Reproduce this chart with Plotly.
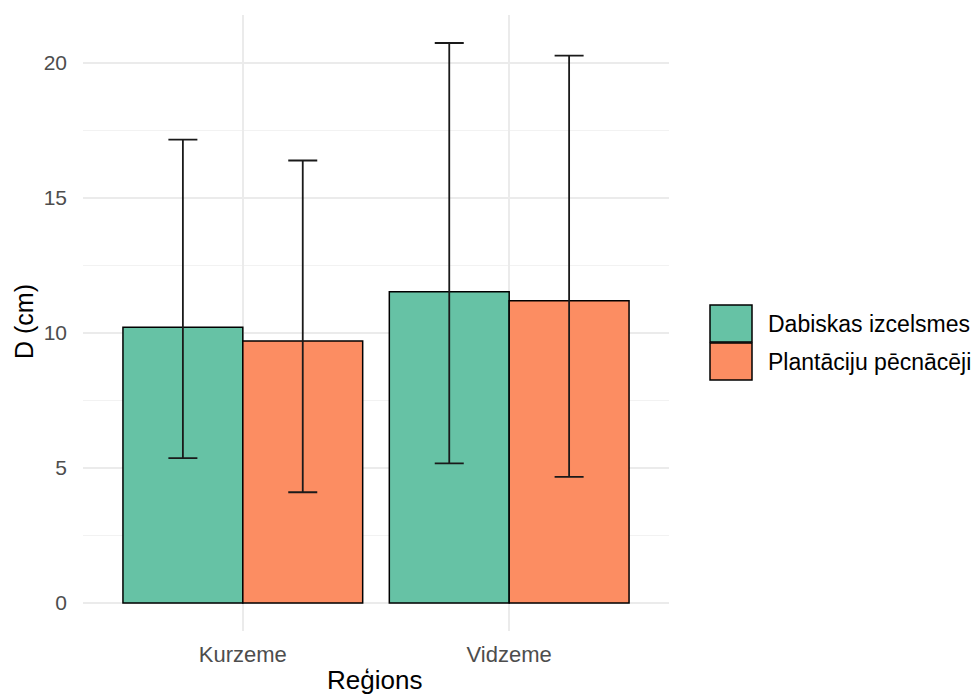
import plotly.graph_objects as go

# Mean stem diameter per region and origin, with lower/upper error limits
regions = ["Kurzeme", "Vidzeme"]
origins = ["Dabiskas izcelsmes", "Plantāciju pēcnācēji"]
mean_dabiskas = [10.21, 11.52]
low_dabiskas = [5.36, 5.17]
high_dabiskas = [17.15, 20.73]
mean_plantaciju = [9.70, 11.19]
low_plantaciju = [4.10, 4.67]
high_plantaciju = [16.38, 20.26]
y_ticks = [0, 5, 10, 15, 20]

colors = ["#66c2a5", "#fc8d62"]
FONT = "Liberation Sans, Arial, sans-serif"

W, H = 979, 695
ML, MR, MT, MB = 83, 310, 15, 64
PW, PH = W - ML - MR, H - MT - MB


def px_x(px):
    return (px - ML) / PW


def px_y(py):
    return (H - MB - py) / PH


series = [
    (origins[0], mean_dabiskas, low_dabiskas, high_dabiskas, colors[0]),
    (origins[1], mean_plantaciju, low_plantaciju, high_plantaciju, colors[1]),
]

fig = go.Figure()
for name, mean, low, high, col in series:
    fig.add_trace(go.Bar(
        x=regions, y=mean, name=name,
        marker=dict(color=col, line=dict(color="black", width=1.5)),
        error_y=dict(
            type="data", symmetric=False,
            array=[h - m for h, m in zip(high, mean)],
            arrayminus=[m - l for m, l in zip(mean, low)],
            color="#1a1a1a", thickness=1.8, width=14.5,
        ),
        showlegend=False,
    ))

ymax = max(high_dabiskas + high_plantaciju)
pad = 0.05 * ymax

fig.update_layout(
    width=W, height=H,
    margin=dict(l=ML, r=MR, t=MT, b=MB, pad=0),
    paper_bgcolor="white", plot_bgcolor="white",
    barmode="group", bargap=0.1, bargroupgap=0,
    font=dict(family=FONT, color="black"),
    xaxis=dict(
        range=[-0.6, 1.6], showgrid=True, gridcolor="#ebebeb", gridwidth=1.5,
        zeroline=False, showline=False, ticks="",
        tickfont=dict(size=22, color="#4d4d4d", family=FONT),
        ticklabelstandoff=8,
    ),
    yaxis=dict(
        range=[-pad, ymax + pad], tickvals=y_ticks,
        showgrid=True, gridcolor="#ebebeb", gridwidth=1.5,
        minor=dict(dtick=2.5, tick0=0, showgrid=True, gridcolor="#f2f2f2", gridwidth=1),
        zeroline=False, showline=False, ticks="",
        tickfont=dict(size=21, color="#4d4d4d", family=FONT),
        ticklabelstandoff=15,
    ),
)

# Axis titles
fig.add_annotation(text="Reģions", xref="paper", yref="paper",
                   x=px_x(374), y=px_y(680), xanchor="center", yanchor="middle",
                   showarrow=False, font=dict(size=26, color="black", family=FONT))
fig.add_annotation(text="D (cm)", xref="paper", yref="paper",
                   x=px_x(24), y=px_y(322), xanchor="center", yanchor="middle",
                   textangle=-90, showarrow=False,
                   font=dict(size=25, color="black", family=FONT))

# Legend with large keys
key_x0, key_x1 = 710, 752
key_rows = [(305, 342), (343, 380)]
for (y0, y1), name, col in zip(key_rows, origins, colors):
    fig.add_shape(type="rect", xref="paper", yref="paper",
                  x0=px_x(key_x0), x1=px_x(key_x1), y0=px_y(y1), y1=px_y(y0),
                  fillcolor=col, line=dict(color="black", width=1.5))
    fig.add_annotation(text=name, xref="paper", yref="paper",
                       x=px_x(766), y=px_y((y0 + y1) / 2), xanchor="left", yanchor="middle",
                       showarrow=False, font=dict(size=23, color="black", family=FONT))

fig.write_html("out.html")
